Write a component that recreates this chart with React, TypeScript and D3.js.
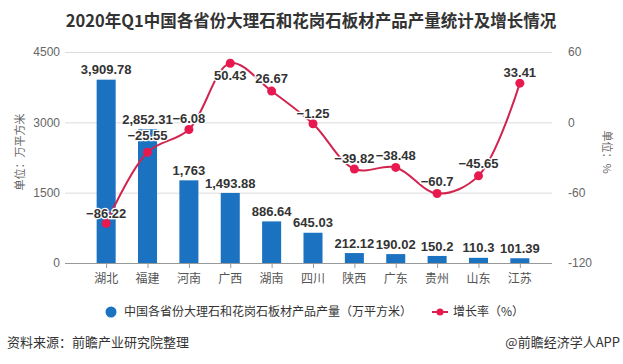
import React, { useRef, useEffect } from 'react';
import * as d3 from 'd3';

const provinces = ['湖北', '福建', '河南', '广西', '湖南', '四川', '陕西', '广东', '贵州', '山东', '江苏'];
const output = [3909.78, 2852.31, 1763, 1493.88, 886.64, 645.03, 212.12, 190.02, 150.2, 110.3, 101.39];
const growth = [-86.22, -25.55, -6.08, 50.43, 26.67, -1.25, -39.82, -38.48, -60.7, -45.65, 33.41];
const leftTicks = [0, 1500, 3000, 4500];
const rightTicks = [-120, -60, 0, 60];

const W = 623;
const H = 364;
const CJK = '"Noto Sans CJK SC", "Noto Sans", sans-serif';
const NUM = '"Liberation Sans", Arial, sans-serif';

// label placement for the growth points (pixels from the point, to the text middle)
const growthLabelShift = [-10, -17, -11, 12, -13, -10, -11, -12, -12, -12, -11];

export default function App() {
  const ref = useRef<SVGSVGElement>(null);

  useEffect(() => {
    const svg = d3.select(ref.current);
    svg.selectAll('*').remove();

    const top = 52, bottom = 263, left = 65, right = 552;

    const x = d3.scaleBand<string>().domain(provinces).range([74.3, 551.7]).padding(0.54);
    const cx = (d: string) => (x(d) as number) + x.bandwidth() / 2;
    const yL = d3.scaleLinear().domain([0, 4500]).range([bottom, top]);
    const yR = d3.scaleLinear().domain([-120, 60]).range([bottom, top]);

    svg.append('rect').attr('width', W).attr('height', H).attr('fill', '#fff');

    // title
    svg.append('text')
      .attr('x', 311).attr('y', 21).attr('dy', '0.35em')
      .attr('text-anchor', 'middle')
      .style('font-family', CJK).style('font-size', '16.5px').style('font-weight', 'bold')
      .attr('fill', '#333')
      .text('2020年Q1中国各省份大理石和花岗石板材产品产量统计及增长情况');

    // grid
    svg.append('g').selectAll('line')
      .data(leftTicks.slice(1))
      .join('line')
        .attr('x1', left).attr('x2', right)
        .attr('y1', d => yL(d) + 0.5).attr('y2', d => yL(d) + 0.5)
        .attr('stroke', '#dcdcdc').attr('stroke-width', 1);

    svg.append('g').selectAll('text')
      .data(leftTicks)
      .join('text')
        .attr('x', 60).attr('y', d => yL(d)).attr('dy', '0.35em')
        .attr('text-anchor', 'end')
        .style('font-family', NUM).style('font-size', '12px')
        .attr('fill', '#666')
        .text(d => d);

    svg.append('g').selectAll('text')
      .data(rightTicks)
      .join('text')
        .attr('x', 568).attr('y', d => yR(d)).attr('dy', '0.35em')
        .style('font-family', NUM).style('font-size', '12px')
        .attr('fill', '#666')
        .text(d => d);

    svg.append('text')
      .attr('transform', `translate(20,152) rotate(-90)`)
      .attr('text-anchor', 'middle').attr('dy', '0.35em')
      .style('font-family', CJK).style('font-size', '11px').attr('fill', '#666')
      .text('单位：万平方米');

    svg.append('text')
      .attr('transform', `translate(607,152) rotate(90)`)
      .attr('text-anchor', 'middle').attr('dy', '0.35em')
      .style('font-family', CJK).style('font-size', '11px').attr('fill', '#666')
      .text('单位：%');

    // bars
    svg.append('g').selectAll('rect')
      .data(output)
      .join('rect')
        .attr('x', (d, i) => x(provinces[i]) as number)
        .attr('width', x.bandwidth())
        .attr('y', d => yL(d))
        .attr('height', d => bottom - yL(d))
        .attr('fill', '#1b72c0');

    // x axis
    svg.append('line')
      .attr('x1', left).attr('x2', right).attr('y1', bottom + 0.5).attr('y2', bottom + 0.5)
      .attr('stroke', '#999');
    svg.append('g').selectAll('line')
      .data(provinces)
      .join('line')
        .attr('x1', d => cx(d) + 0.5).attr('x2', d => cx(d) + 0.5)
        .attr('y1', bottom).attr('y2', bottom + 5)
        .attr('stroke', '#999');
    svg.append('g').selectAll('text')
      .data(provinces)
      .join('text')
        .attr('x', d => cx(d)).attr('y', bottom + 16).attr('dy', '0.35em')
        .attr('text-anchor', 'middle')
        .style('font-family', CJK).style('font-size', '12px')
        .attr('fill', '#555')
        .text(d => d);

    // bar labels
    svg.append('g').selectAll('text')
      .data(output)
      .join('text')
        .attr('x', (d, i) => cx(provinces[i]))
        .attr('y', d => yL(d) - 10).attr('dy', '0.35em')
        .attr('text-anchor', 'middle')
        .style('font-family', NUM).style('font-size', '13px').style('font-weight', 'bold')
        .attr('fill', '#333')
        .text(d => d3.format(',')(d));

    // growth line
    const line = d3.line<number>()
      .x((d, i) => cx(provinces[i]))
      .y(d => yR(d))
      .curve(d3.curveCatmullRom.alpha(0.5));

    svg.append('path')
      .datum(growth)
      .attr('d', line)
      .attr('fill', 'none')
      .attr('stroke', '#d1244f')
      .attr('stroke-width', 2);

    svg.append('g').selectAll('circle')
      .data(growth)
      .join('circle')
        .attr('cx', (d, i) => cx(provinces[i]))
        .attr('cy', d => yR(d))
        .attr('r', 4.5)
        .attr('fill', '#e8194f');

    svg.append('g').selectAll('text')
      .data(growth)
      .join('text')
        .attr('x', (d, i) => cx(provinces[i]))
        .attr('y', (d, i) => yR(d) + growthLabelShift[i]).attr('dy', '0.35em')
        .attr('text-anchor', 'middle')
        .style('font-family', NUM).style('font-size', '13px').style('font-weight', 'bold')
        .attr('fill', '#333')
        .attr('stroke', '#fff').attr('stroke-width', 2.5).attr('paint-order', 'stroke')
        .text(d => String(d).replace('-', '−'));

    // legend
    const lg = svg.append('g');
    lg.append('circle').attr('cx', 111).attr('cy', 312).attr('r', 5.5).attr('fill', '#1b72c0');
    lg.append('text')
      .attr('x', 124).attr('y', 312).attr('dy', '0.35em')
      .style('font-family', CJK).style('font-size', '12px').attr('fill', '#333')
      .text('中国各省份大理石和花岗石板材产品产量（万平方米）');
    lg.append('line').attr('x1', 432).attr('x2', 448).attr('y1', 312).attr('y2', 312)
      .attr('stroke', '#d1244f').attr('stroke-width', 2);
    lg.append('circle').attr('cx', 440).attr('cy', 312).attr('r', 3.5).attr('fill', '#e8194f');
    lg.append('text')
      .attr('x', 453).attr('y', 312).attr('dy', '0.35em')
      .style('font-family', CJK).style('font-size', '12px').attr('fill', '#333')
      .text('增长率（%）');

    // footer
    svg.append('text')
      .attr('x', 7).attr('y', 342).attr('dy', '0.35em')
      .style('font-family', CJK).style('font-size', '13px').attr('fill', '#333')
      .text('资料来源：前瞻产业研究院整理');
    svg.append('text')
      .attr('x', 620).attr('y', 342).attr('dy', '0.35em')
      .attr('text-anchor', 'end')
      .style('font-family', CJK).style('font-size', '13px').attr('fill', '#333')
      .text('@前瞻经济学人APP');
  }, []);

  return (
    <svg
      ref={ref}
      width={W}
      height={H}
      style={{ position: 'absolute', left: 0, top: 0, display: 'block' }}
    />
  );
}
